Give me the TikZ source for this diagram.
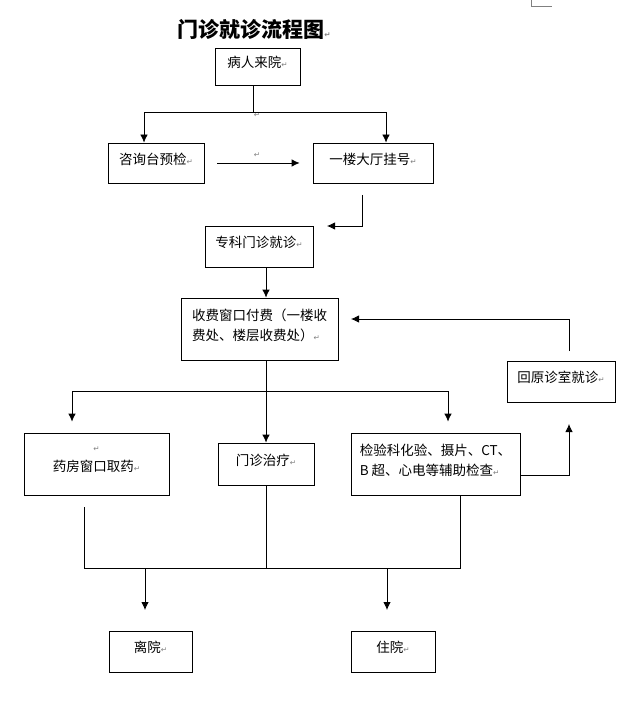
\documentclass[tikz,border=0pt]{standalone}
\usepackage{fontspec}
\newfontfamily\cjk{Noto Sans CJK SC}
\newfontfamily\pilfont{DejaVu Sans}
\usetikzlibrary{arrows.meta}
\newcommand{\pil}{{\pilfont\fontsize{7.5}{7.5}\selectfont\color{gray}↵}}

\begin{document}
\begin{tikzpicture}
    [x=1pt,y=-1pt,line width=0.8pt,
     font=\cjk\fontsize{13.5}{20}\selectfont,
     box/.style={draw,rectangle,inner sep=2pt,execute at end node={\rule[-9pt]{0pt}{0pt}}},
     arr/.style={-{Latex[length=8pt,width=7.5pt]}}]
    \useasboundingbox (0,0) rectangle (634,711);
    \draw[gray,line width=0.5pt] (531,0) -- (531,6) -- (552,6);
    \node[font=\cjk\bfseries\fontsize{21}{24}\selectfont] (title) at (254,29) {门诊就诊流程图\pil};
    % boxes
    \node[box,minimum width=85pt,minimum height=37pt] (bry) at (257.5,66.5) {病人来院\pil};
    \node[box,minimum width=96pt,minimum height=40pt] (zx) at (156,163) {咨询台预检\pil};
    \node[box,minimum width=120pt,minimum height=40pt] (gh) at (373,163) {一楼大厅挂号\pil};
    \node[box,minimum width=108pt,minimum height=41pt] (zk) at (259,246.5) {专科门诊就诊\pil};
    \node[box,minimum width=157pt,minimum height=62pt,align=left] (sf) at (259.5,329) {收费窗口付费（一楼收\\费处、楼层收费处）\pil};
    \node[box,minimum width=108pt,minimum height=41pt] (hy) at (561,381.5) {回原诊室就诊\pil};
    \node[box,minimum width=145pt,minimum height=62pt,align=center] (yf) at (96.5,464) {\pil\\药房窗口取药\pil};
    \node[box,minimum width=96pt,minimum height=42pt] (zl) at (266,464) {门诊治疗\pil};
    \node[box,minimum width=169pt,minimum height=62pt,align=left] (jy) at (435.5,464) {检验科化验、摄片、CT、\\B 超、心电等辅助检查\pil};
    \node[box,minimum width=83pt,minimum height=41pt] (ly) at (150.5,651.5) {离院\pil};
    \node[box,minimum width=84pt,minimum height=41pt] (zy) at (393,651.5) {住院\pil};
    \node[inner sep=0pt] (p1) at (257,115) {\pil};
    \node[inner sep=0pt] (p2) at (257,155) {\pil};
    % free ends and junctions
    \coordinate (j1) at (253,112);
    \coordinate (j2) at (266,391);
    \coordinate (j3) at (266,568);
    \coordinate (ghb) at (362,195);
    \coordinate (zkr) at (327,226);
    \coordinate (hyt) at (569,351);
    \coordinate (sfr) at (351,319);
    \coordinate (hyb) at (569,424);
    \coordinate (yfb) at (84,507);
    \coordinate (lyt) at (145,610);
    \coordinate (zyt) at (387,610);
    % connectors
    \draw (bry.south -| j1) -- (j1);
    \draw[arr] (j1) -| ([xshift=-12pt]zx.north);
    \draw[arr] (j1) -| ([xshift=13pt]gh.north);
    \draw[arr,shorten <=13pt,shorten >=13pt] (zx) -- (gh);
    \draw[arr] (ghb) |- (zkr);
    \draw[arr] (zk.south -| j2) -- (sf.north -| j2);
    \draw[arr] (hyt) |- (sfr);
    \draw (sf.south -| j2) -- (j2);
    \draw[arr] (j2) -| ([xshift=-24.5pt,yshift=11pt]yf.north);
    \draw[arr] (j2) -| ([xshift=12.5pt,yshift=11pt]jy.north);
    \draw[arr] (j2) -- (zl.north);
    \draw[arr] ([yshift=-11pt]jy.east) -| (hyb);
    \draw (yfb) |- (j3);
    \draw (zl.south) -- (j3);
    \draw ([xshift=24.5pt]jy.south) |- (j3);
    \draw[arr] (lyt |- j3) -- (lyt);
    \draw[arr] (zyt |- j3) -- (zyt);
\end{tikzpicture}
\end{document}
